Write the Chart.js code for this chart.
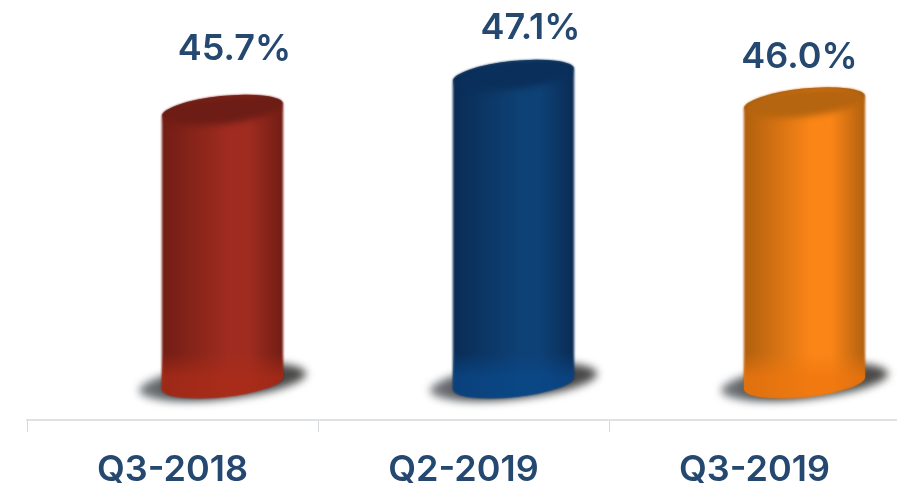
<!DOCTYPE html>
<html>
<head>
<meta charset="utf-8">
<style>
  html, body { margin: 0; padding: 0; background: #fff; overflow: hidden; }
  canvas { display: block; }
</style>
<script src="https://cdn.jsdelivr.net/npm/chart.js@4/dist/chart.umd.min.js"></script>
</head>
<body>
<canvas id="chart" width="900" height="483"></canvas>
<script>
const categories = ['Q3-2018', 'Q2-2019', 'Q3-2019'];
const shareValues = [45.7, 47.1, 46.0];
const spacerValues = [null, null, null];

// edge, centre, lid, lid rim, base tint for each cylinder
const barColors = [
  ['#711d14', '#a02c20', '#6d1d15', '#5a150f', '172,44,24'],
  ['#0a2c55', '#0e4176', '#0a2f5a', '#082a4f', '10,72,138'],
  ['#b0600f', '#fb8517', '#b5640f', '#9a540c', '238,118,14']
];
// the value labels do not sit centred over the bars in the original
const labelNudge = [[12, -61], [17, -47], [-5, -45]];
const textColor = '#24486f';
const fontFamily = 'Inter, "Liberation Sans", sans-serif';

function bodyPath(ctx, cx, top, bottom, rx, ry, rot) {
  ctx.beginPath();
  ctx.ellipse(cx, bottom, rx, ry, rot, 0, Math.PI);
  ctx.ellipse(cx, top, rx, ry, rot, Math.PI, Math.PI * 2);
  ctx.closePath();
}

const cylinders = {
  id: 'cylinders',
  afterDatasetsDraw(chart) {
    const ctx = chart.ctx;
    const bars = chart.getDatasetMeta(1).data;
    const rot = -6 * Math.PI / 180;
    const ry = 14;

    bars.forEach((bar, i) => {
      const rx = bar.width / 2;
      const cx = bar.x;
      const colors = barColors[i];
      const dx = rx * Math.cos(rot);

      // floor shadow
      ctx.save();
      ctx.filter = 'blur(4px)';
      const sh = ctx.createLinearGradient(cx - 86, 0, cx + 86, 0);
      sh.addColorStop(0, '#7d8287');
      sh.addColorStop(0.3, '#3f4347');
      sh.addColorStop(1, '#4a4a48');
      ctx.fillStyle = sh;
      ctx.beginPath();
      ctx.ellipse(cx, bar.base - 1, 84, 17, rot, 0, Math.PI * 2);
      ctx.fill();
      ctx.restore();

      ctx.save();
      ctx.filter = 'blur(0.8px)';
      const grad = ctx.createLinearGradient(cx - dx, 0, cx + dx, 0);
      grad.addColorStop(0, colors[0]);
      grad.addColorStop(0.55, colors[1]);
      grad.addColorStop(0.72, colors[1]);
      grad.addColorStop(1, colors[0]);
      ctx.fillStyle = grad;
      bodyPath(ctx, cx, bar.y, bar.base, rx, ry, rot);
      ctx.fill();
      ctx.restore();

      // lid and base band stay inside the body
      ctx.save();
      bodyPath(ctx, cx, bar.y, bar.base, rx, ry, rot);
      ctx.clip();

      const band = ctx.createLinearGradient(0, bar.base - 30, 0, bar.base + 4);
      band.addColorStop(0, 'rgba(' + colors[4] + ',0)');
      band.addColorStop(0.7, 'rgba(' + colors[4] + ',0.75)');
      ctx.fillStyle = band;
      ctx.fillRect(cx - rx, bar.base - 30, rx * 2, 50);

      ctx.filter = 'blur(3px)';
      ctx.fillStyle = colors[2];
      ctx.beginPath();
      ctx.ellipse(cx, bar.y, rx - 1, ry, rot, 0, Math.PI * 2);
      ctx.fill();
      ctx.filter = 'blur(0.8px)';
      ctx.strokeStyle = colors[3];
      ctx.lineWidth = 2;
      ctx.beginPath();
      ctx.ellipse(cx, bar.y, rx - 1, ry, rot, Math.PI, Math.PI * 2);
      ctx.stroke();
      ctx.restore();

      // value label
      ctx.save();
      ctx.fillStyle = textColor;
      ctx.font = '600 36px ' + fontFamily;
      ctx.textAlign = 'center';
      ctx.textBaseline = 'middle';
      ctx.fillText(shareValues[i].toFixed(1) + '%', cx + labelNudge[i][0], bar.y + labelNudge[i][1]);
      ctx.restore();
    });
  }
};

new Chart(document.getElementById('chart'), {
  type: 'bar',
  data: {
    labels: categories,
    datasets: [
      { data: spacerValues, backgroundColor: 'transparent' },
      { data: shareValues, base: 34.78, backgroundColor: 'transparent' }
    ]
  },
  options: {
    responsive: false,
    animation: false,
    categoryPercentage: 0.687,
    barPercentage: 1.22,
    layout: { padding: { left: 27 } },
    plugins: { legend: { display: false }, tooltip: { enabled: false } },
    scales: {
      y: { display: false, min: 33.3, max: 50.1 },
      x: {
        afterFit(scale) { scale.height = 63; },
        border: { color: '#dfe2e4', width: 2 },
        grid: { drawOnChartArea: false, color: '#d5d8da', tickLength: 12 },
        ticks: {
          color: textColor,
          padding: 17,
          maxRotation: 0,
          font: { family: fontFamily, size: 36, weight: '600' }
        }
      }
    }
  },
  plugins: [cylinders]
});
</script>
</body>
</html>
